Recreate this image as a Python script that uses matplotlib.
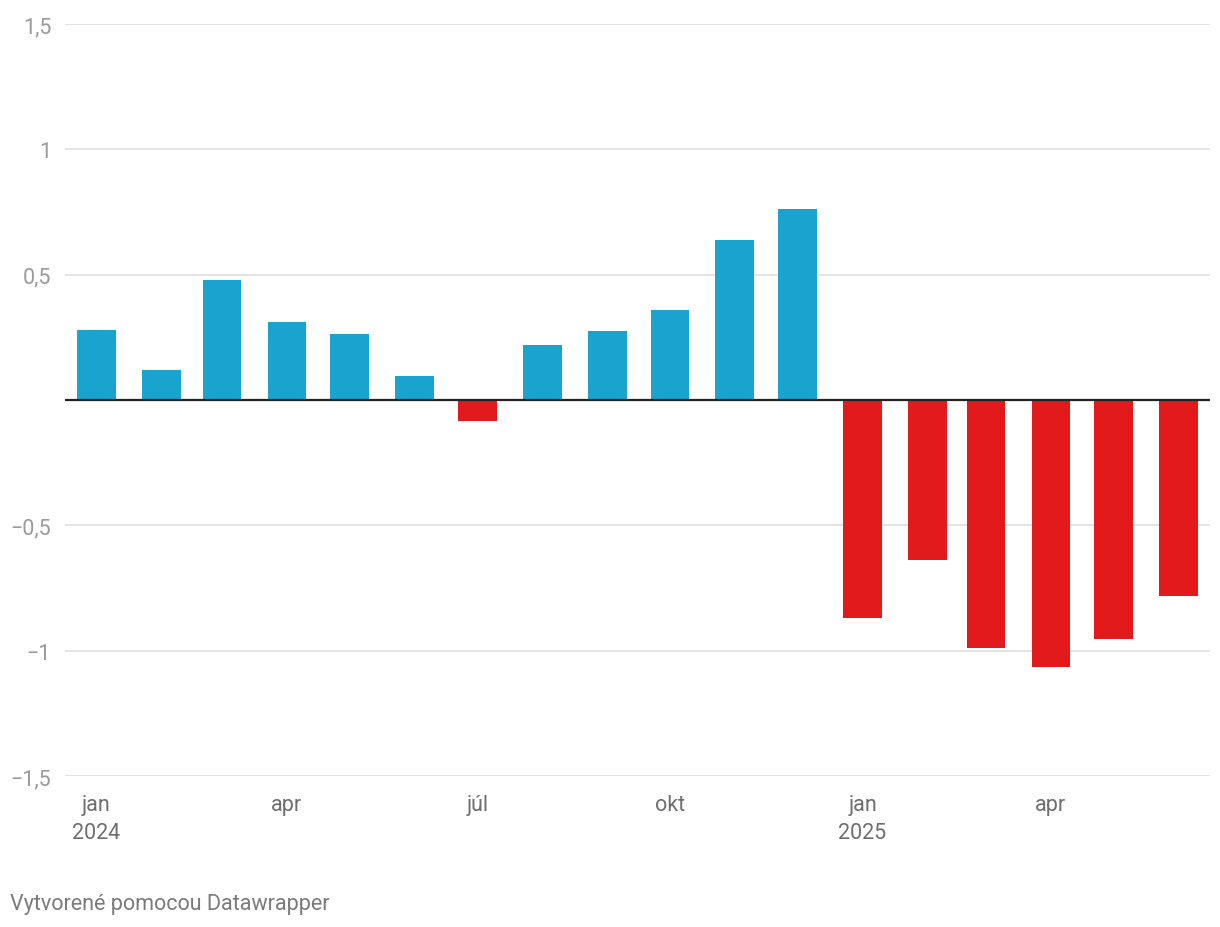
import numpy as np
import matplotlib.pyplot as plt
import matplotlib.dates as mdates
import datetime as dt

plt.rcParams['font.family'] = ['Roboto', 'DejaVu Sans']

# mesiace jan 2024 - jun 2025
mesiace = [dt.date(2024, m, 1) for m in range(1, 13)] + [dt.date(2025, m, 1) for m in range(1, 7)]
hodnoty = [0.28, 0.12, 0.48, 0.31, 0.265, 0.097, -0.085, 0.22, 0.277, 0.36, 0.64, 0.76,
           -0.87, -0.64, -0.99, -1.067, -0.953, -0.78]

tick_datumy = [dt.date(2024, 1, 1), dt.date(2024, 4, 1), dt.date(2024, 7, 1),
               dt.date(2024, 10, 1), dt.date(2025, 1, 1), dt.date(2025, 4, 1)]
tick_texty = ["jan\n2024", "apr", "júl", "okt", "jan\n2025", "apr"]

y_ticky = [-1.5, -1, -0.5, 0.5, 1, 1.5]
y_texty = ["−1,5", "−1", "−0,5", "0,5", "1", "1,5"]

modra = "#1aa3cf"
cervena = "#e31a1c"
farby = [modra if v >= 0 else cervena for v in hodnoty]

fig = plt.figure(figsize=(12.2, 9.28), dpi=100)
ax = fig.add_axes([65/1220, 1 - 777/928, (1210 - 65)/1220, (777 - 25)/928])

ax.bar(mesiace, hodnoty, width=18.5, color=farby, zorder=2)
ax.axhline(0, color="#222222", lw=1.6, zorder=3)

ax.set_ylim(-1.5, 1.5)
ax.set_xlim(dt.date(2023, 12, 17), dt.date(2025, 6, 16))

for y in y_ticky:
    ax.axhline(y, color="#e3e3e3", lw=1.4, zorder=1)

ax.set_yticks(y_ticky)
ax.set_yticklabels(y_texty)
ax.set_xticks(tick_datumy)
ax.set_xticklabels(tick_texty, linespacing=1.45)

ax.tick_params(axis="y", length=0, pad=10, labelsize=15.5, labelcolor="#9a9a9a")
ax.tick_params(axis="x", length=0, pad=13, labelsize=15.5, labelcolor="#6e6e6e")
for lab in ax.get_xticklabels():
    lab.set_verticalalignment("top")

for s in ax.spines.values():
    s.set_visible(False)

fig.text(10/1220, 1 - 905/928, "Vytvorené pomocou Datawrapper", fontsize=15.5,
         color="#7a7a7a", va="center", ha="left")

fig.savefig("out.png", dpi=100)
